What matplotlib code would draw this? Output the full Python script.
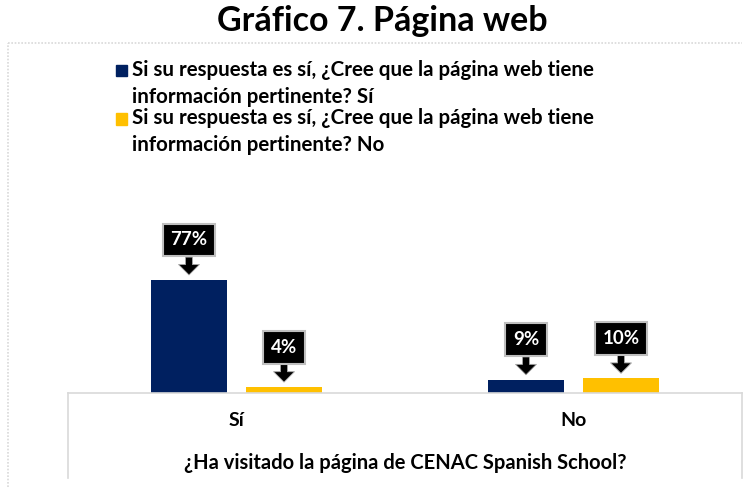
import matplotlib.pyplot as plt
from matplotlib.lines import Line2D
from matplotlib.patches import Rectangle
import numpy as np

# datos
categorias = ['Sí', 'No']
serie_si = [77, 9]
serie_no = [4, 10]
etiquetas_si = ['77%', '9%']
etiquetas_no = ['4%', '10%']
leyenda = ['Si su respuesta es sí, ¿Cree que la página web tiene\ninformación pertinente? Sí',
           'Si su respuesta es sí, ¿Cree que la página web tiene\ninformación pertinente? No']
titulo = 'Gráfico 7. Página web'
titulo_x = '¿Ha visitado la página de CENAC Spanish School?'

azul = '#002060'
amarillo = '#ffc000'
gris = '#d9d9d9'

W, H = 743, 487
fig = plt.figure(figsize=(W / 100, H / 100), dpi=100)
plt.rcParams['font.family'] = ['Lato', 'DejaVu Sans']

# marco exterior y caja de categorias
fig.add_artist(Line2D([8 / W, 8 / W], [0, 1 - 43 / H], color=gris, lw=1.2, ls=(0, (1, 1))))
fig.add_artist(Line2D([8 / W, 742 / W], [1 - 43 / H, 1 - 43 / H], color=gris, lw=1.2, ls=(0, (1, 1))))
fig.add_artist(Line2D([68 / W, 68 / W], [1 - 478 / H, 1 - 393 / H], color=gris, lw=1.2))
fig.add_artist(Line2D([742 / W, 742 / W], [1 - 478 / H, 1 - 393 / H], color=gris, lw=1.2))

ax = fig.add_axes([68 / W, 1 - 393 / H, 674 / W, 350 / H])
x = np.arange(len(categorias))
ancho = 0.228
sep = 0.141
b1 = ax.bar(x - sep, serie_si, ancho, color=azul, label=leyenda[0])
b2 = ax.bar(x + sep, serie_no, ancho, color=amarillo, label=leyenda[1])

ax.set_xlim(-0.5, 1.5)
ax.set_ylim(0, 238.4)
for s in ['top', 'left', 'right']:
    ax.spines[s].set_visible(False)
ax.spines['bottom'].set_color(gris)
ax.spines['bottom'].set_linewidth(1.2)
ax.set_yticks([])
ax.set_xticks(x)
ax.set_xticklabels(categorias, fontsize=14, fontweight='bold')
ax.tick_params(axis='x', length=0, pad=14)
ax.set_xlabel(titulo_x, fontsize=14.5, fontweight='bold', labelpad=17)

# etiquetas tipo llamada
def llamada(xs, vals, textos):
    for xi, v, t in zip(xs, vals, textos):
        ax.annotate(t, xy=(xi, v), xytext=(0, 28.8), textcoords='offset points',
                    ha='center', va='center', color='white', fontsize=13.5, fontweight='bold',
                    bbox=dict(boxstyle='square,pad=0.42', fc='black', ec='#bfbfbf', lw=1.5),
                    arrowprops=dict(arrowstyle='simple,head_length=0.75,head_width=1.5,tail_width=0.5',
                                    fc='black', ec='#a6a6a6', lw=0.6, mutation_scale=10,
                                    shrinkA=0, shrinkB=3.6))

llamada(x - sep, serie_si, etiquetas_si)
llamada(x + sep, serie_no, etiquetas_no)

# leyenda: cuadro alineado con la primera linea
for i, (txt, col) in enumerate(zip(leyenda, [azul, amarillo])):
    y1 = 72 + i * 48.5
    fig.add_artist(Rectangle((116 / W, 1 - (y1 + 4) / H), 11 / W, 11 / H,
                             transform=fig.transFigure, color=col))
    fig.text(132 / W, 1 - (y1 - 12) / H, txt, ha='left', va='top', fontsize=14.8,
             fontweight='bold', linespacing=1.42)

fig.text(382 / W, 1 - 21 / H, titulo, ha='center', va='center', fontsize=24.5, fontweight='bold')

fig.savefig('out.png', dpi=100)
